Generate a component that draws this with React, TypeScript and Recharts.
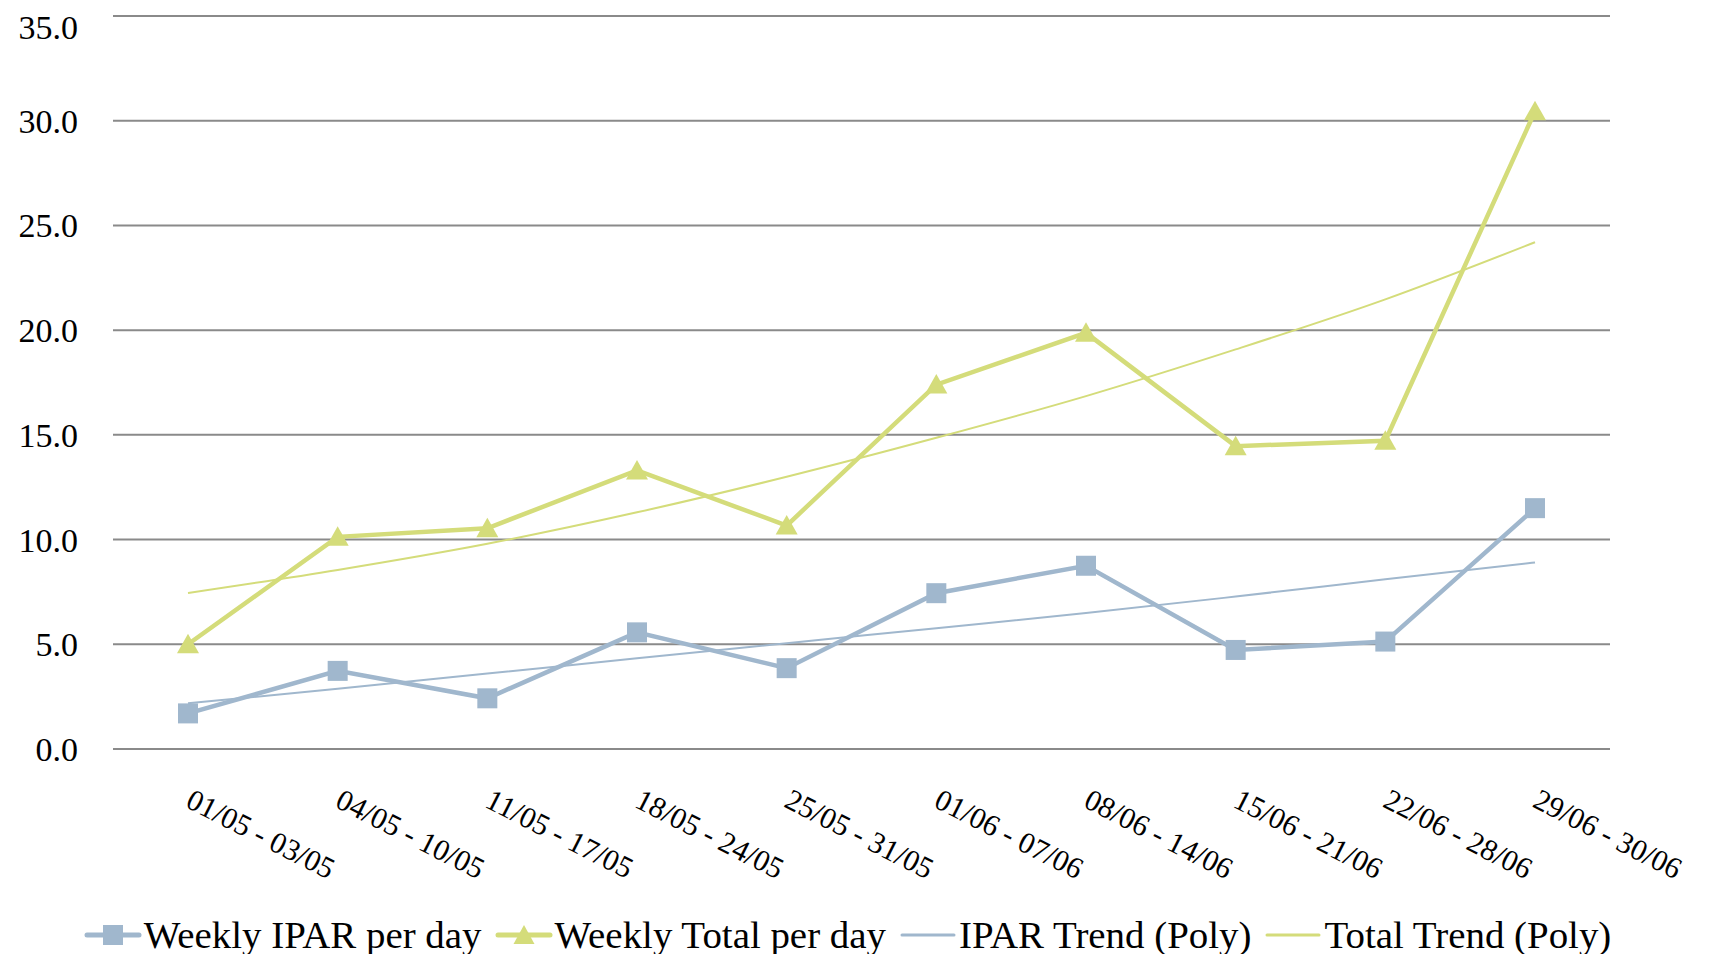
import React from 'react';
import { LineChart, Line, XAxis, YAxis, CartesianGrid, Legend } from 'recharts';

const categories = [
  '01/05 - 03/05', '04/05 - 10/05', '11/05 - 17/05', '18/05 - 24/05', '25/05 - 31/05',
  '01/06 - 07/06', '08/06 - 14/06', '15/06 - 21/06', '22/06 - 28/06', '29/06 - 30/06',
];
const weeklyIpar = [1.7, 3.73, 2.42, 5.57, 3.86, 7.44, 8.75, 4.73, 5.13, 11.5];
const weeklyTotal = [5.0, 10.13, 10.54, 13.3, 10.67, 17.4, 19.87, 14.46, 14.72, 30.45];
const iparTrend = [2.18, 2.88, 3.6, 4.33, 5.05, 5.77, 6.49, 7.28, 8.1, 8.91];
const totalTrend = [7.45, 8.55, 9.8, 11.3, 13.0, 14.86, 16.85, 19.08, 21.47, 24.2];
const yTicks = [0, 5, 10, 15, 20, 25, 30, 35];

const seriesNames = ['Weekly IPAR per day', 'Weekly Total per day', 'IPAR Trend (Poly)', 'Total Trend (Poly)'];

const data = categories.map((c, i) => ({
  cat: c,
  ipar: weeklyIpar[i],
  total: weeklyTotal[i],
  iparTrend: iparTrend[i],
  totalTrend: totalTrend[i],
}));

const BLUE = '#a0b7cd';
const GREEN = '#d4dc7a';
const FONT = '"Liberation Serif", serif';

const SquareDot = (props: any) => {
  const { cx, cy, index } = props;
  if (cx == null || cy == null) return <g key={`sq-${index}`} />;
  return <rect key={`sq-${index}`} x={cx - 10} y={cy - 10} width={20} height={20} fill={BLUE} />;
};

const TriangleDot = (props: any) => {
  const { cx, cy, index } = props;
  if (cx == null || cy == null) return <g key={`tr-${index}`} />;
  return (
    <path
      key={`tr-${index}`}
      d={`M${cx},${cy - 10.5} L${cx + 11},${cy + 9} L${cx - 11},${cy + 9} Z`}
      fill={GREEN}
    />
  );
};

const XTick = (props: any) => {
  const { x, y, payload } = props;
  const ax = x + 6;
  const ay = y + 38;
  return (
    <text
      x={ax}
      y={ay}
      dominantBaseline="hanging"
      textAnchor="start"
      transform={`rotate(27, ${ax}, ${ay})`}
      fontFamily={FONT}
      fontSize={30}
      fill="#000"
    >
      {payload.value}
    </text>
  );
};

const LegendIcon = ({ color, kind }: { color: string; kind: 'square' | 'triangle' | 'line' }) => (
  <svg width={52} height={30} style={{ display: 'block', overflow: 'visible' }}>
    <line x1={0} y1={15} x2={52} y2={15} stroke={color} strokeWidth={kind === 'line' ? 3 : 5} strokeLinecap="round" />
    {kind === 'square' && <rect x={16} y={5} width={20} height={20} fill={color} />}
    {kind === 'triangle' && <path d="M26,5 L36.5,24 L15.5,24 Z" fill={color} />}
  </svg>
);

const CustomLegend = () => {
  const items: { color: string; kind: 'square' | 'triangle' | 'line' }[] = [
    { color: BLUE, kind: 'square' },
    { color: GREEN, kind: 'triangle' },
    { color: BLUE, kind: 'line' },
    { color: GREEN, kind: 'line' },
  ];
  return (
    <div
      style={{
        display: 'flex',
        justifyContent: 'center',
        alignItems: 'center',
        height: 44,
        boxSizing: 'border-box',
        paddingBottom: 10,
        fontFamily: FONT,
        fontSize: 38.9,
        lineHeight: '34px',
        color: '#000',
        paddingRight: 12,
      }}
    >
      {items.map((it, i) => (
        <div key={i} style={{ display: 'flex', alignItems: 'center', marginRight: i < 3 ? 16 : 0 }}>
          <LegendIcon color={it.color} kind={it.kind} />
          <span style={{ marginLeft: 5, whiteSpace: 'nowrap' }}>{seriesNames[i]}</span>
        </div>
      ))}
    </div>
  );
};

export default function App() {
  return (
    <div style={{ width: 1694, height: 954, marginBottom: -8 }}>
      <LineChart width={1694} height={954} data={data} margin={{ top: 8, right: 92, left: 0, bottom: 0 }}>
        <CartesianGrid vertical={false} stroke="#8a8a8a" strokeWidth={2} />
        <XAxis
          dataKey="cat"
          axisLine={false}
          tickLine={false}
          tickSize={0}
          tickMargin={0}
          height={169}
          interval={0}
          padding={{ left: 75, right: 75 }}
          tick={<XTick />}
        />
        <YAxis
          domain={[0, 35]}
          ticks={yTicks}
          width={105}
          axisLine={false}
          tickLine={false}
          tickSize={0}
          tickMargin={35}
          tickFormatter={(v: number) => v.toFixed(1)}
          tick={{ fontFamily: FONT, fontSize: 34, fill: '#000' }}
        />
        <Legend
          verticalAlign="bottom"
          height={44}
          wrapperStyle={{ left: 0, width: 1694 }}
          content={<CustomLegend />}
        />
        <Line dataKey="iparTrend" name={seriesNames[2]} stroke={BLUE} strokeWidth={2} dot={false} type="monotone" isAnimationActive={false} />
        <Line dataKey="totalTrend" name={seriesNames[3]} stroke={GREEN} strokeWidth={2} dot={false} type="monotone" isAnimationActive={false} />
        <Line dataKey="ipar" name={seriesNames[0]} stroke={BLUE} strokeWidth={4.5} dot={<SquareDot />} type="linear" isAnimationActive={false} />
        <Line dataKey="total" name={seriesNames[1]} stroke={GREEN} strokeWidth={4.5} dot={<TriangleDot />} type="linear" isAnimationActive={false} />
      </LineChart>
    </div>
  );
}
